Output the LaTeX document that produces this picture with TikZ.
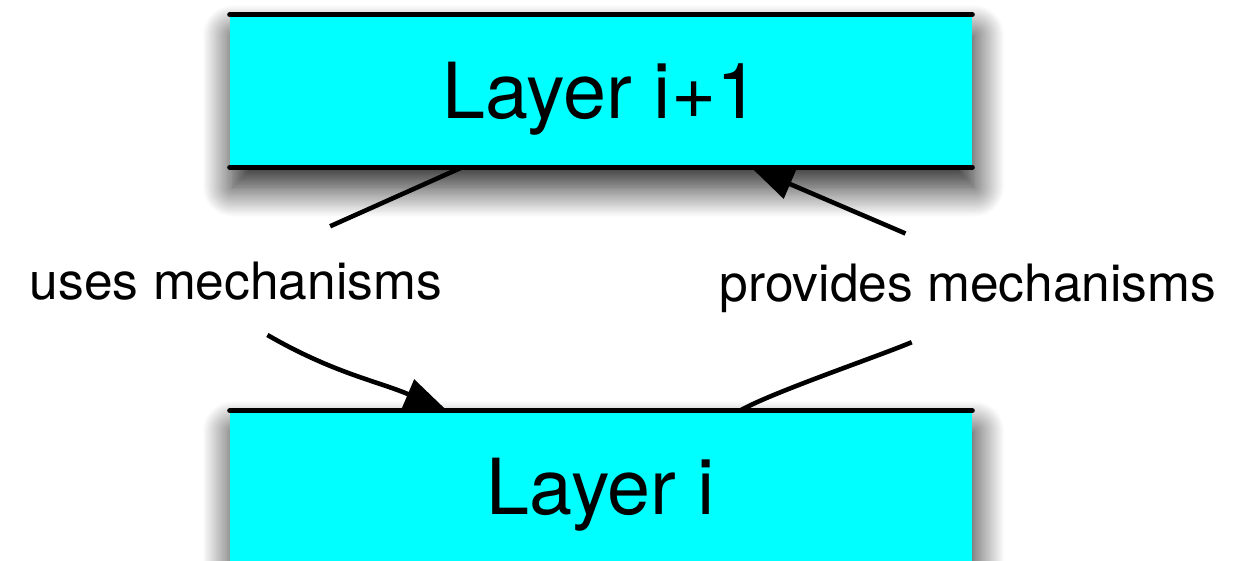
\documentclass[tikz,border=0pt]{standalone}
\usepackage{fontspec}
\setmainfont{TeX Gyre Heros}
\usetikzlibrary{arrows.meta,shadows.blur}
\definecolor{layercyan}{RGB}{0,255,255}

\begin{document}
\begin{tikzpicture}[
        layerbox/.style={rectangle, fill=layercyan, inner sep=0pt,
            minimum width=14.84cm, minimum height=3.04cm,
            text height=1.1cm, text depth=0pt,
            blur shadow={shadow xshift=0.05cm, shadow yshift=-0.4cm,
                shadow blur radius=0.6cm, shadow blur steps=25,
                shadow opacity=90},
            font=\fontsize{44}{50}\selectfont},
        mechtext/.style={inner xsep=0pt, minimum height=2.16cm, anchor=base,
            font=\fontsize{29.3}{35}\selectfont},
        rim/.style={line width=2.8pt, line cap=round},
        mechlink/.style={line width=2.6pt, -{Triangle[length=0.85cm,width=0.62cm]}}
    ]
    \useasboundingbox (0,0) rectangle (25,-11.2);
    % the two layers
    \node[layerbox] (upper) at (12.02,-1.82) {Layer i+1};
    \node[layerbox] (lower) at (12.02,-9.74) {Layer i};
    \draw[rim] (upper.north west) -- (upper.north east)
               (upper.south west) -- (upper.south east);
    \draw[rim] (lower.north west) -- (lower.north east)
               (lower.south west) -- (lower.south east);
    % labels
    \node[mechtext] (uses) at (4.72,-5.98) {uses mechanisms};
    \node[mechtext] (provides) at (19.36,-6.02) {provides mechanisms};
    % connectors
    \draw[mechlink] ([xshift=-2.78cm]upper.south) -- (uses.30)
        (uses.-60) to[out=-30,in=157] ([xshift=-3.08cm]lower.north);
    \draw[mechlink] ([xshift=2.78cm]lower.north) to[out=30,in=203,looseness=0.5] (provides.224)
        (provides.139) -- ([xshift=3.0cm]upper.south);
\end{tikzpicture}
\end{document}
